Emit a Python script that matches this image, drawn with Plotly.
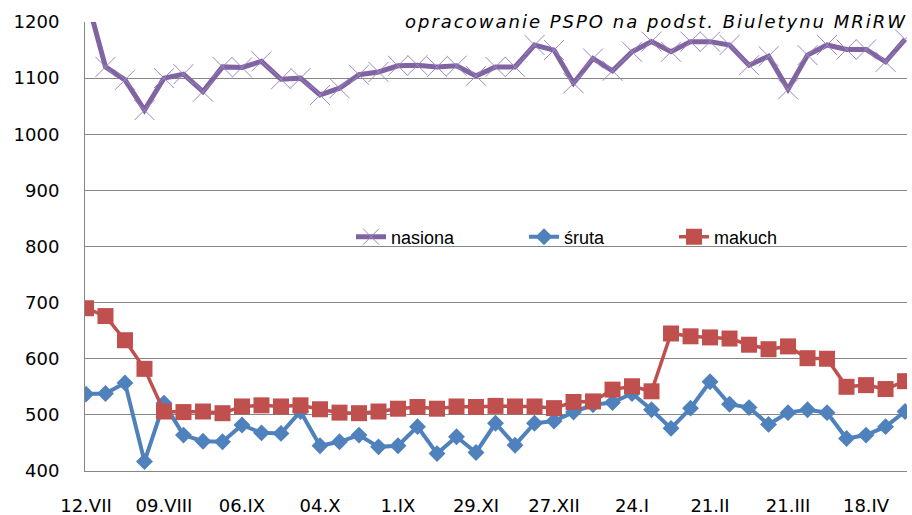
import plotly.graph_objects as go

# ---- data ----
week_index = list(range(43))
tick_positions = [0, 4, 8, 12, 16, 20, 24, 28, 32, 36, 40]
tick_labels = ["12.VII", "09.VIII", "06.IX", "04.X", "1.IX", "29.XI",
               "27.XII", "24.I", "21.II", "21.III", "18.IV"]

nasiona = [1248, 1120, 1097, 1043, 1100, 1107, 1076, 1120, 1119, 1130,
           1098, 1100, 1070, 1082, 1106, 1111, 1122, 1123, 1120, 1122,
           1104, 1120, 1120, 1159, 1150, 1091, 1135, 1113, 1147, 1165,
           1147, 1165, 1165, 1159, 1123, 1139, 1080, 1141, 1159, 1151,
           1151, 1129, 1169]
sruta = [537, 538, 557, 417, 521, 464, 453, 452, 482, 468,
         467, 506, 445, 452, 464, 443, 445, 479, 431, 461,
         433, 485, 446, 485, 489, 505, 518, 522, 538, 509,
         476, 512, 559, 519, 513, 483, 504, 509, 504, 458,
         464, 479, 506]
makuch = [690, 676, 633, 582, 506, 505, 506, 503, 515, 517,
          515, 517, 510, 504, 503, 506, 511, 514, 511, 515,
          514, 516, 515, 515, 512, 523, 524, 545, 551, 542,
          645, 640, 638, 636, 625, 617, 622, 601, 600, 550,
          553, 546, 560]

y_ticks = [400, 500, 600, 700, 800, 900, 1000, 1100, 1200]

W, H = 912, 515
ML, MR, MT, MB = 85, 5, 22, 44
PW = W - ML - MR
PH = H - MT - MB

def px_x(x):
    return (x - ML) / PW

def px_y(y):
    return (H - MB - y) / PH

fig = go.Figure()

fig.add_trace(go.Scatter(
    x=week_index, y=nasiona, name="nasiona", mode="lines+markers",
    line=dict(color="#8064A2", width=5),
    marker=dict(symbol="x-thin-open", size=20, color="#9D86C2",
                line=dict(color="#9D86C2", width=1)),
    legend="legend",
))
fig.add_trace(go.Scatter(
    x=week_index, y=sruta, name="śruta", mode="lines+markers",
    line=dict(color="#4F81BD", width=4),
    marker=dict(symbol="diamond", size=13, color="#4F81BD"),
    legend="legend2",
))
fig.add_trace(go.Scatter(
    x=week_index, y=makuch, name="makuch", mode="lines+markers",
    line=dict(color="#C0504D", width=3.5),
    marker=dict(symbol="square", size=16, color="#C0504D"),
    legend="legend3",
))

legend_font = dict(family="Liberation Sans", size=18, color="#000000")
common_leg = dict(orientation="h", xanchor="left", yanchor="middle",
                  bgcolor="rgba(0,0,0,0)", borderwidth=0, font=legend_font,
                  itemwidth=30)

fig.update_layout(
    width=W, height=H,
    margin=dict(l=ML, r=MR, t=MT, b=MB, autoexpand=False),
    paper_bgcolor="white", plot_bgcolor="white",
    font=dict(family="DejaVu Sans", size=18, color="#000000"),
    xaxis=dict(
        range=[-0.05, 42.1], automargin=False,
        tickmode="array", tickvals=tick_positions, ticktext=tick_labels,
        showgrid=False, zeroline=False,
        showline=True, linecolor="#868686", linewidth=1,
        ticks="", ticklabelstandoff=18,
        tickfont=dict(family="DejaVu Sans", size=18),
    ),
    yaxis=dict(
        range=[400, 1200], automargin=False,
        tickmode="array", tickvals=y_ticks,
        showgrid=True, gridcolor="#868686", gridwidth=1,
        zeroline=False,
        showline=True, linecolor="#868686", linewidth=1,
        ticks="", ticklabelstandoff=21,
        tickfont=dict(family="DejaVu Sans", size=18),
    ),
    legend=dict(x=px_x(351), y=px_y(237), **common_leg),
    legend2=dict(x=px_x(524), y=px_y(237), **common_leg),
    legend3=dict(x=px_x(674), y=px_y(237), **common_leg),
    showlegend=True,
)

# white areas behind the legend and the source note (they hide the gridlines)
fig.add_shape(type="rect", xref="paper", yref="y", layer="between",
              x0=px_x(285), x1=1.0, y0=780, y1=820,
              fillcolor="white", line=dict(width=0))
fig.add_shape(type="rect", xref="paper", yref="y", layer="between",
              x0=px_x(385), x1=1.0, y0=1195, y1=1205,
              fillcolor="white", line=dict(width=0))

fig.add_annotation(
    xref="paper", yref="paper", x=px_x(403), y=px_y(21),
    xanchor="left", yanchor="middle", showarrow=False,
    text="<i><span style=\"letter-spacing:2px\">opracowanie PSPO na podst. Biuletynu MRiRW</span></i>",
    font=dict(family="DejaVu Sans", size=18, color="#000000"),
)

fig.write_html(
    "out.html",
    config={"displayModeBar": False},
    post_script="document.body.style.margin='0px';document.body.style.padding='0px';document.body.style.overflow='hidden';",
)
